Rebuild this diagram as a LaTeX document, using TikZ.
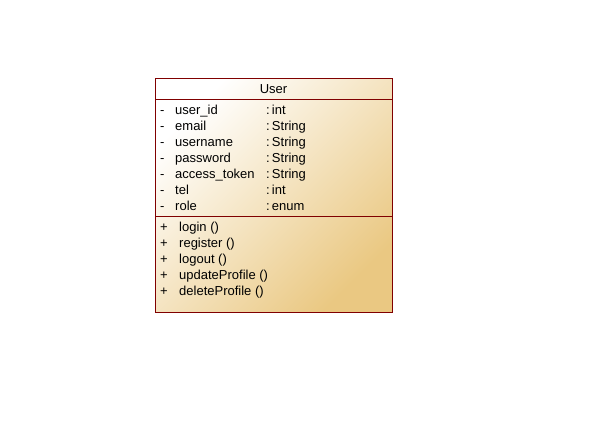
\documentclass[tikz,border=0pt]{standalone}
\usepackage{fontspec}
\setmainfont{Liberation Sans}
\definecolor{umlborder}{RGB}{128,0,0}
\definecolor{umlfill}{RGB}{234,200,130}
\tikzset{
    member/.style={anchor=base west, inner sep=0pt, font=\fontsize{13}{14}\selectfont},
}
\begin{document}
\begin{tikzpicture}[x=1pt, y=-1pt]
        \useasboundingbox (0,0) rectangle (612,437);
        \shade[shading=axis, top color=white, bottom color=umlfill, shading angle=45]
            (155,78) rectangle (392,312);
        \draw[umlborder, line width=0.8pt] (155,78) rectangle (392,312);
        \draw[umlborder, line width=0.8pt] (155,99) -- (392,99);
        \draw[umlborder, line width=0.8pt] (155,216) -- (392,216);
        \node[member, anchor=base] (title) at (273.5,93) {User};
        % attributes
        \foreach \n/\t [count=\i from 0] in {user\_id/int, email/String, username/String,
                password/String, access\_token/String, tel/int, role/enum} {
            \node[member] (vis\i) at (160,114+16*\i) {-};
            \node[member] (attr\i) at (175,114+16*\i) {\n};
            \node[member] (type\i) at (266,114+16*\i) {:\,\t};
        }
        % operations
        \foreach \m [count=\i from 0] in {login, register, logout, updateProfile, deleteProfile} {
            \node[member] (plus\i) at (160,231+16*\i) {+};
            \node[member] (op\i) at (179,231+16*\i) {\m\ ()};
        }
    \end{tikzpicture}
\end{document}
